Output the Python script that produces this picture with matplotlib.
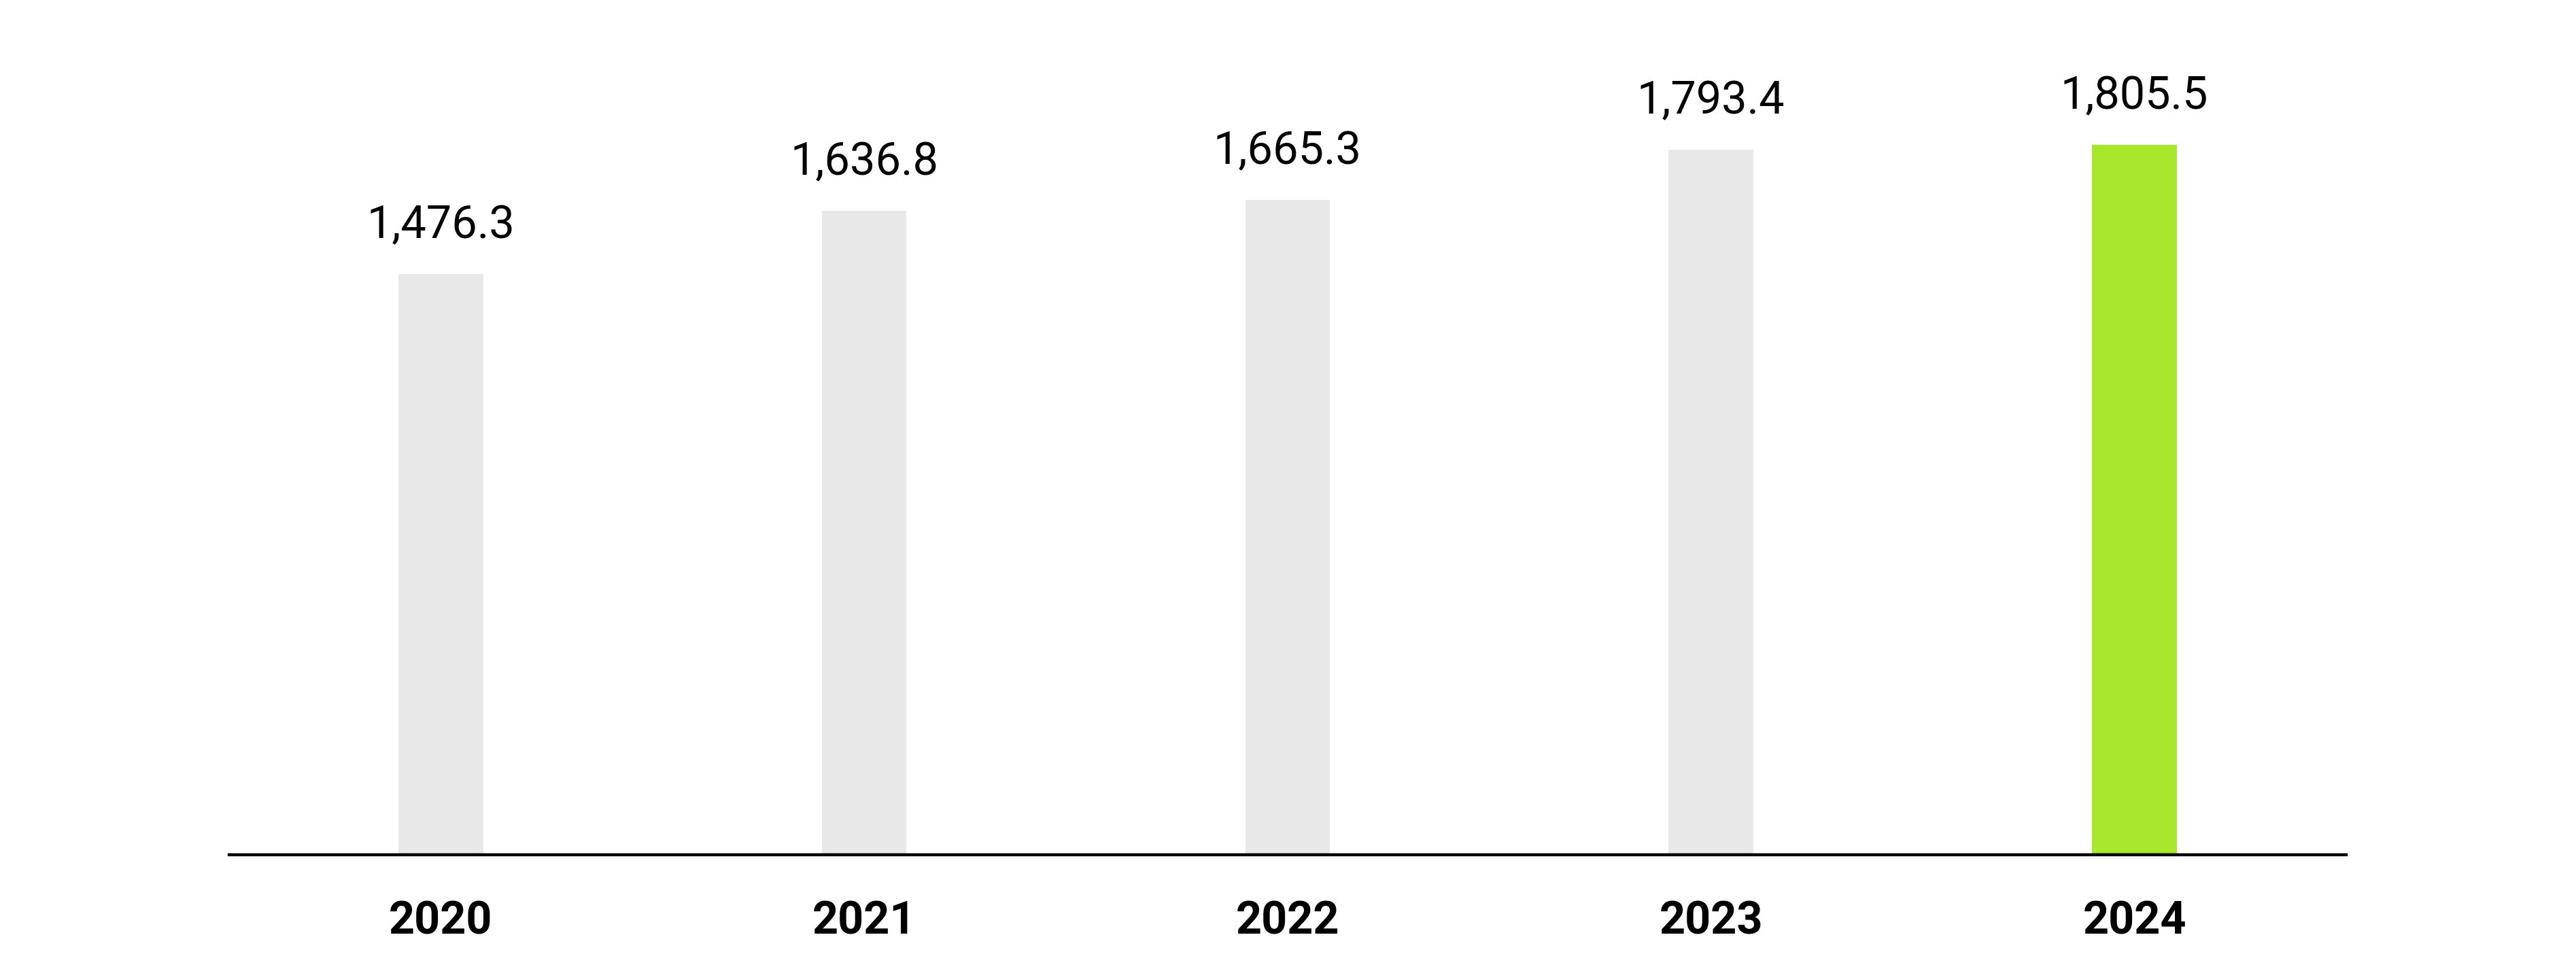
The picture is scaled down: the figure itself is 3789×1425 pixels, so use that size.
import matplotlib
matplotlib.use("Agg")
import matplotlib.pyplot as plt

years = ["2020", "2021", "2022", "2023", "2024"]
values = [1476.3, 1636.8, 1665.3, 1793.4, 1805.5]
bar_colors = ["#e8e8e8", "#e8e8e8", "#e8e8e8", "#e8e8e8", "#a8e82c"]

plt.rcParams['font.family'] = ['Roboto', 'DejaVu Sans']

fig = plt.figure(figsize=(37.89, 14.25), dpi=100)
ax = fig.add_axes([0.0889, 0.1179, 0.8219, 0.8117])

x = list(range(len(years)))
ax.bar(x, values, width=0.2, color=bar_colors, zorder=1)

for xi, v in zip(x, values):
    ax.annotate(f"{v:,.1f}", xy=(xi, v), xytext=(0, 38), textcoords="offset points",
                ha="center", va="baseline", fontsize=48, color="black")

ax.set_xlim(-0.5, 4.5)
ax.set_ylim(0, 2000)
ax.set_xticks(x)
ax.set_xticklabels(years, fontsize=48, fontweight="bold", color="black")
ax.tick_params(axis="x", length=0, pad=48)
ax.set_yticks([])
for s in ["top", "right", "left"]:
    ax.spines[s].set_visible(False)
ax.spines["bottom"].set_linewidth(3.2)
ax.spines["bottom"].set_color("black")
ax.spines["bottom"].set_zorder(3)

fig.savefig("out.png", dpi=100, facecolor="white")
